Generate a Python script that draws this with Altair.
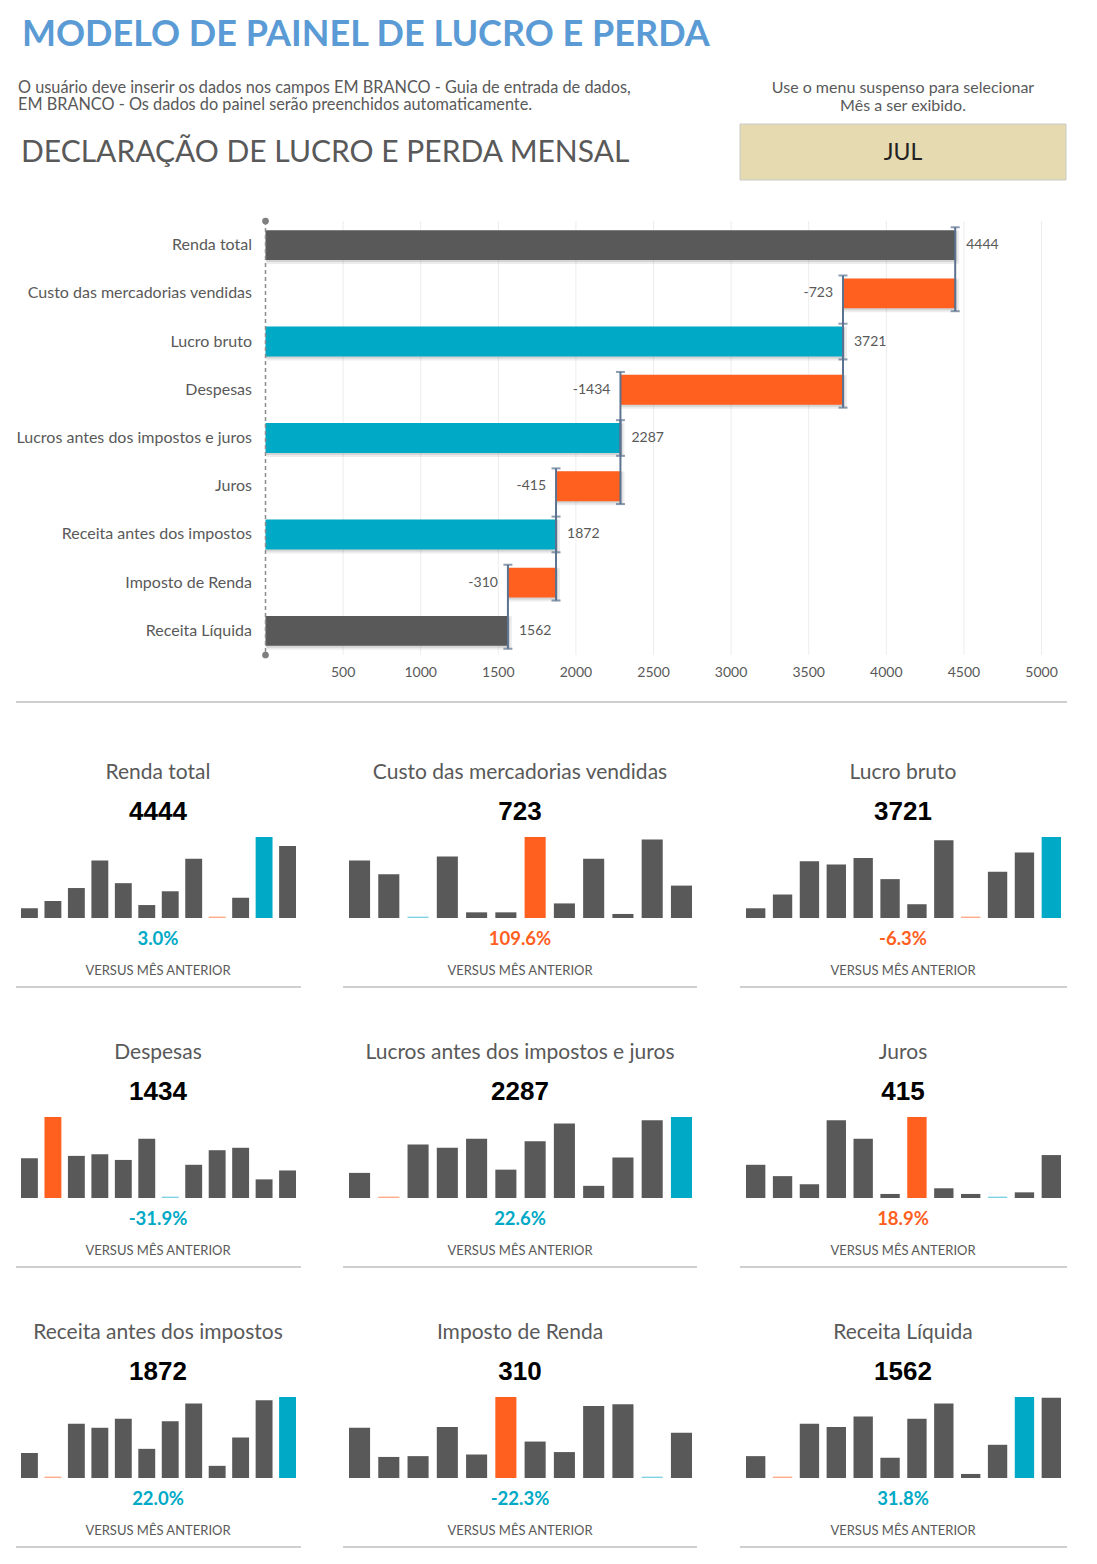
import altair as alt
import pandas as pd

FONT = "Lato"
NUMFONT = "Liberation Sans"
GREY = "#595959"
TEAL = "#00A9C5"
ORANGE = "#FF5F1F"
TEAL_L = "#7FD4E3"
ORANGE_L = "#FFAA8A"
SLATE = "#5B7290"

# ---------------- data ----------------
categorias = ["Renda total", "Custo das mercadorias vendidas", "Lucro bruto", "Despesas",
              "Lucros antes dos impostos e juros", "Juros", "Receita antes dos impostos",
              "Imposto de Renda", "Receita Líquida"]
valores = [4444, -723, 3721, -1434, 2287, -415, 1872, -310, 1562]
tipos = ["total", "neg", "sub", "neg", "sub", "neg", "sub", "neg", "total"]
ticks_x = [500, 1000, 1500, 2000, 2500, 3000, 3500, 4000, 4500, 5000]

percentuais = [3.0, 109.6, -6.3, -31.9, 22.6, 18.9, 22.0, -22.3, 31.8]
natureza = ["receita", "custo", "receita", "custo", "receita", "custo", "receita", "custo", "receita"]

renda_total = [12, 21, 37, 71, 43, 16, 33, 73, 0, 25, 100, 89]
custo_mercadorias = [71, 54, 0, 76, 7, 7, 100, 18, 73, 5, 97, 40]
lucro_bruto = [12, 29, 70, 66, 74, 48, 17, 96, 0, 57, 81, 100]
despesas = [49, 100, 52, 54, 47, 73, 0, 41, 59, 62, 23, 34]
lucros_antes = [31, 0, 66, 62, 73, 35, 70, 92, 15, 50, 96, 100]
juros = [41, 27, 17, 96, 73, 5, 100, 12, 5, 0, 7, 53]
receita_antes = [31, 0, 67, 62, 73, 36, 70, 92, 15, 50, 96, 100]
imposto_renda = [62, 26, 27, 63, 29, 100, 45, 32, 89, 91, 0, 56]
receita_liquida = [27, 0, 67, 63, 76, 25, 73, 92, 5, 41, 100, 99]
series = [renda_total, custo_mercadorias, lucro_bruto, despesas, lucros_antes,
          juros, receita_antes, imposto_renda, receita_liquida]

# ---------------- waterfall table ----------------
linhas = []
running = 0
for i, (c, v, t) in enumerate(zip(categorias, valores, tipos)):
    if t == "neg":
        ini, fim = running + v, running
        running += v
        cor = ORANGE
    else:
        ini, fim = 0, v
        running = v
        cor = GREY if t == "total" else TEAL
    linhas.append(dict(idx=i, cat=c, ini=ini, fim=fim, valor=v, tipo=t, cor=cor,
                       rotulo=str(v)))
wf = pd.DataFrame(linhas)

segs = []
for r in linhas:
    if r["tipo"] == "neg":
        segs.append(dict(x=r["fim"], a=r["idx"] - 1, b=r["idx"]))
        segs.append(dict(x=r["ini"], a=r["idx"], b=r["idx"] + 1))
sg = pd.DataFrame(segs)
tk = pd.DataFrame({"v": ticks_x})

xs = alt.Scale(domain=[0, 5000], range=[265.5, 1041.5], nice=False, zero=False)
ys = alt.Scale(domain=[-0.5, 8.5], range=[221, 655], nice=False, zero=False)


def txt(s, x, y, size, color=GREY, weight="normal", align="left", font=FONT):
    return alt.Chart(pd.DataFrame({"t": [s]})).mark_text(
        align=align, baseline="middle", fontSize=size, font=font,
        fontWeight=weight, color=color
    ).encode(x=alt.value(x), y=alt.value(y), text="t:N")


header = [
    txt("MODELO DE PAINEL DE LUCRO E PERDA", 22, 35, 36, "#5B9BD5", "bold"),
    txt("O usuário deve inserir os dados nos campos EM BRANCO - Guia de entrada de dados,", 18, 88, 16.3),
    txt("EM BRANCO - Os dados do painel serão preenchidos automaticamente.", 18, 105, 16.3),
    txt("DECLARAÇÃO DE LUCRO E PERDA MENSAL", 21, 153, 30),
    txt("Use o menu suspenso para selecionar", 903, 88, 16, align="center"),
    txt("Mês a ser exibido.", 903, 106, 16, align="center"),
    alt.Chart(pd.DataFrame({"t": ["JUL"]})).mark_rect(
        fill="#E6DBB0", stroke="#C9C9C9", strokeWidth=1
    ).encode(x=alt.value(740), x2=alt.value(1066), y=alt.value(124), y2=alt.value(180)),
    txt("JUL", 903, 153, 23, "#222222", align="center"),
]

grid = alt.Chart(tk).mark_rule(color="#EDEDED", strokeWidth=1).encode(
    x=alt.X("v:Q", scale=xs, axis=None),
    y=alt.Y(datum=-0.5, scale=ys, axis=None), y2=alt.datum(8.5))
ticklab = alt.Chart(tk).mark_text(fontSize=14, font=FONT, color=GREY, baseline="middle").encode(
    x=alt.X("v:Q", scale=xs, axis=None), y=alt.value(673), text="v:Q")

zero = alt.Chart(pd.DataFrame({"z": [0]})).mark_rule(
    color="#8C8C8C", strokeWidth=1.5, strokeDash=[4, 3]).encode(
    x=alt.X("z:Q", scale=xs, axis=None),
    y=alt.Y(datum=-0.5, scale=ys, axis=None), y2=alt.datum(8.5))
dots = alt.Chart(pd.DataFrame({"z": [0, 0], "e": [-0.5, 8.5]})).mark_circle(
    color="#7F7F7F", size=45, opacity=1).encode(
    x=alt.X("z:Q", scale=xs, axis=None), y=alt.Y("e:Q", scale=ys, axis=None))

base = alt.Chart(wf).transform_calculate(
    top="datum.idx - 0.31", bot="datum.idx + 0.31")
shadow1 = base.mark_bar(color="black", opacity=0.07, xOffset=1, x2Offset=4,
                        yOffset=0, y2Offset=4).encode(
    x=alt.X("ini:Q", scale=xs, axis=None), x2="fim:Q",
    y=alt.Y("top:Q", scale=ys, axis=None), y2="bot:Q")
shadow2 = base.mark_bar(color="black", opacity=0.10, xOffset=0, x2Offset=2,
                        yOffset=1, y2Offset=2).encode(
    x=alt.X("ini:Q", scale=xs, axis=None), x2="fim:Q",
    y=alt.Y("top:Q", scale=ys, axis=None), y2="bot:Q")
bars = base.mark_bar().encode(
    x=alt.X("ini:Q", scale=xs, axis=None), x2="fim:Q",
    y=alt.Y("top:Q", scale=ys, axis=None), y2="bot:Q",
    color=alt.Color("cor:N", scale=None))

segbase = alt.Chart(sg).transform_calculate(y0="datum.a - 0.37", y1="datum.b + 0.37")
rules = segbase.mark_rule(color=SLATE, strokeWidth=2).encode(
    x=alt.X("x:Q", scale=xs, axis=None),
    y=alt.Y("y0:Q", scale=ys, axis=None), y2="y1:Q")
caps = segbase.transform_fold(["y0", "y1"], as_=["k", "yv"]).mark_tick(
    color=SLATE, orient="horizontal", size=9, thickness=2).encode(
    x=alt.X("x:Q", scale=xs, axis=None), y=alt.Y("yv:Q", scale=ys, axis=None))

lab_pos = alt.Chart(wf).transform_filter("datum.tipo != 'neg'").mark_text(
    align="left", dx=11, fontSize=14, font=FONT, color=GREY, baseline="middle").encode(
    x=alt.X("fim:Q", scale=xs, axis=None), y=alt.Y("idx:Q", scale=ys, axis=None),
    text="rotulo:N")
lab_neg = alt.Chart(wf).transform_filter("datum.tipo == 'neg'").mark_text(
    align="right", dx=-10, fontSize=14, font=FONT, color=GREY, baseline="middle").encode(
    x=alt.X("ini:Q", scale=xs, axis=None), y=alt.Y("idx:Q", scale=ys, axis=None),
    text="rotulo:N")
catlab = alt.Chart(wf).mark_text(
    align="right", fontSize=16, font=FONT, color=GREY, baseline="middle").encode(
    x=alt.value(252), y=alt.Y("idx:Q", scale=ys, axis=None), text="cat:N")

sep = alt.Chart(pd.DataFrame({"s": [0]})).mark_rule(color="#BFBFBF", strokeWidth=1.5).encode(
    x=alt.value(16), x2=alt.value(1067), y=alt.value(702))

top = alt.layer(*header, grid, ticklab, shadow1, shadow2, bars, zero, dots, rules, caps,
                lab_pos, lab_neg, catlab, sep).properties(width=1097, height=712)

# ---------------- sparkline panels ----------------
COLS = [
    dict(w=320, cx=158, r0=21, r1=296, l0=16, l1=301),
    dict(w=400, cx=200, r0=29, r1=372, l0=23, l1=377),
    dict(w=377, cx=183, r0=26, r1=341, l0=20, l1=347),
]


def painel(i, col):
    serie = series[i]
    receita = natureza[i] == "receita"
    imax = serie.index(max(serie))
    imin = serie.index(min(serie))
    cores = []
    for k in range(12):
        if k == imax:
            cores.append(TEAL if receita else ORANGE)
        else:
            cores.append(GREY)
    d = pd.DataFrame({"mes": list(range(12)), "v": serie, "cor": cores,
                      "minimo": [k == imin for k in range(12)]})
    xsc = alt.Scale(domain=list(range(12)), range=[col["r0"], col["r1"]],
                    paddingInner=0.28, paddingOuter=0)
    ysc = alt.Scale(domain=[0, 100], range=[206, 125], nice=False)
    barras = alt.Chart(d).transform_filter("!datum.minimo").mark_bar().encode(
        x=alt.X("mes:O", scale=xsc, axis=None),
        y=alt.Y("v:Q", scale=ysc, axis=None),
        color=alt.Color("cor:N", scale=None))
    minl = alt.Chart(d).transform_filter("datum.minimo").mark_bar(
        color=ORANGE_L if receita else TEAL_L).encode(
        x=alt.X("mes:O", scale=xsc, axis=None),
        y=alt.value(204.6), y2=alt.value(206))
    p = percentuais[i]
    bom = (p > 0) if receita else (p < 0)
    pcor = TEAL if bom else ORANGE
    cx = col["cx"]
    layers = [
        txt(categorias[i], cx, 61, 21, GREY, align="center"),
        txt(str(abs(valores[i])), cx, 100, 26, "black", "bold", "center", NUMFONT),
        barras, minl,
        txt(f"{p:.1f}%", cx, 227, 18.5, pcor, "bold", "center"),
        txt("VERSUS MÊS ANTERIOR", cx, 259, 13, GREY, align="center"),
        alt.Chart(pd.DataFrame({"s": [0]})).mark_rule(color="#BFBFBF", strokeWidth=1.5).encode(
            x=alt.value(col["l0"]), x2=alt.value(col["l1"]), y=alt.value(275)),
    ]
    return alt.layer(*layers).properties(width=col["w"], height=280)


rows = []
for r in range(3):
    rows.append(alt.hconcat(*[painel(r * 3 + c, COLS[c]) for c in range(3)], spacing=0))

chart = alt.vconcat(top, *rows, spacing=0).properties(
    padding=0, background="white"
).configure_view(stroke=None)

chart.save("out.html", embed_options={"renderer": "svg", "actions": False})
